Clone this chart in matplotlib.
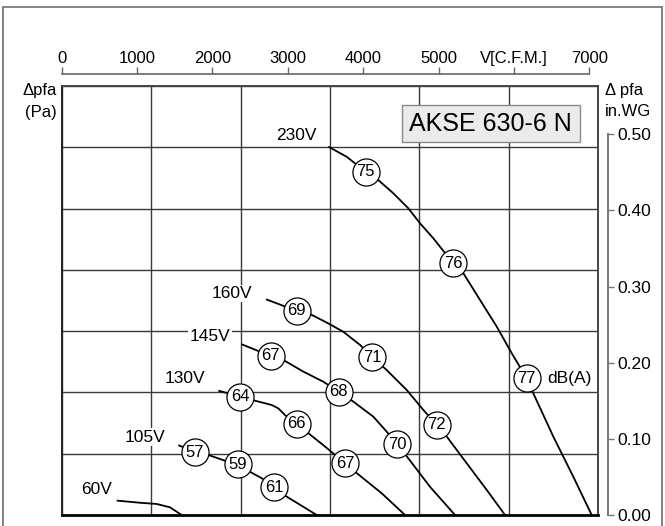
import matplotlib
matplotlib.use("Agg")
import matplotlib.pyplot as plt
from matplotlib.patches import Rectangle
import numpy as np

plt.rcParams['font.family'] = ['Liberation Sans', 'DejaVu Sans']

# ---------------- data (x: m3/h, y: Pa) ----------------
c60_x = [1225, 1746, 2120, 2418, 2680]
c60_y = [4.7, 4.0, 3.6, 2.5, 0.0]

c105_x = [2604, 2978, 3275, 3611, 3933, 4209, 4471, 4753, 5030, 5702]
c105_y = [22.8, 20.5, 19.6, 17.9, 16.5, 14.1, 12.0, 9.0, 6.0, 0.0]

c130_x = [3499, 3985, 4321, 4695, 4843, 4993, 5254, 5514, 5850, 6336, 6604, 7157, 7679]
c130_y = [40.6, 38.6, 37.3, 35.9, 34.8, 32.6, 29.7, 26.7, 22.8, 16.9, 13.6, 7.1, 0.0]

c145_x = [4023, 4672, 4954, 5402, 5850, 6195, 6522, 6969, 7269, 7507, 7753, 8239, 8799]
c145_y = [55.7, 51.9, 50.6, 46.8, 43.5, 40.2, 37.0, 32.1, 27.2, 23.1, 18.5, 9.2, 0.0]

c160_x = [4567, 5254, 5590, 5926, 6298, 6672, 6947, 7269, 7717, 8089, 8389, 8613, 9060, 9508, 9918]
c160_y = [70.4, 66.6, 65.3, 62.8, 59.8, 55.5, 51.5, 47.3, 40.8, 34.3, 29.4, 25.6, 16.9, 8.2, 0.0]

c230_x = [5962, 6374, 6799, 7081, 7417, 7753, 8015, 8313, 8760, 8985, 9358, 9732,
          10068, 10404, 10552, 10999, 11447, 11859]
c230_y = [120.2, 116.9, 112.0, 109.3, 105.0, 100.1, 95.2, 90.3, 82.1, 78.9, 70.2, 61.5,
          52.8, 44.6, 39.7, 25.6, 12.5, 0.0]

curves_x = [c60_x, c105_x, c130_x, c145_x, c160_x, c230_x]
curves_y = [c60_y, c105_y, c130_y, c145_y, c160_y, c230_y]

voltage_labels = ['60V', '105V', '130V', '145V', '160V', '230V']
voltage_lab_x = [777, 1858, 2754, 3313, 3799, 5239]
voltage_lab_y = [8.2, 25.4, 44.4, 58.4, 72.3, 124.0]

db_values = [57, 59, 61, 64, 66, 67, 67, 68, 70, 69, 71, 72, 75, 76, 77]
db_x = [2978, 3933, 4753, 3985, 5254, 6336, 4672, 6195, 7507, 5254, 6947, 8389, 6799, 8760, 10404]
db_y = [20.5, 16.5, 9.0, 38.6, 29.7, 16.9, 51.9, 40.2, 23.1, 66.6, 51.5, 29.4, 112.0, 82.1, 44.6]

cfm_ticks = [0, 1000, 2000, 3000, 4000, 5000, 6000, 7000]
cfm_labels = ['0', '1000', '2000', '3000', '4000', '5000', 'V[C.F.M.]', '7000']
inwg_ticks = [0.0, 0.1, 0.2, 0.3, 0.4, 0.5]
inwg_labels = ['0.00', '0.10', '0.20', '0.30', '0.40', '0.50']

title_text = 'AKSE 630-6 N'

# ---------------- figure ----------------
W, H = 665, 526
fig = plt.figure(figsize=(W / 100, H / 100), dpi=100)

def fx(px):
    return px / W

def fy(py):
    return 1 - py / H

# outer border
fig.patches.append(Rectangle((fx(3), fy(540)), fx(662) - fx(3), fy(7) - fy(540),
                             transform=fig.transFigure, fill=False,
                             edgecolor='#7a7a7a', lw=1.3))

# main axes
L, R, T, B = 62, 598, 86, 515
ax = fig.add_axes([fx(L), fy(B), fx(R) - fx(L), fy(T) - fy(B)])
ax.set_xlim(0, 12000)
ax.set_ylim(0, 140)
ax.set_xticks(np.arange(0, 12001, 2000))
ax.set_yticks(np.arange(0, 141, 20))
ax.tick_params(length=0, labelbottom=False, labelleft=False)
ax.grid(True, color='#3a3a3a', lw=1.0)
ax.set_axisbelow(True)
for s in ['top', 'right']:
    ax.spines[s].set_color('#444444')
    ax.spines[s].set_linewidth(1.4)
ax.spines['left'].set_color('#222222')
ax.spines['left'].set_linewidth(1.4)
ax.spines['bottom'].set_color('#000000')
ax.spines['bottom'].set_linewidth(2.0)

for xs, ys in zip(curves_x, curves_y):
    ax.plot(xs, ys, color='black', lw=1.3, zorder=3, solid_capstyle='butt',
            solid_joinstyle='round')

ax.plot(db_x, db_y, linestyle='none', marker='o', markersize=19.5,
        markerfacecolor='white', markeredgecolor='black', markeredgewidth=0.9,
        zorder=4)
for v, x, y in zip(db_values, db_x, db_y):
    ax.text(x, y, str(v), ha='center', va='center', fontsize=12, zorder=5)

for lab, x, y in zip(voltage_labels, voltage_lab_x, voltage_lab_y):
    ax.text(x, y, lab, ha='center', va='center', fontsize=12.5, zorder=5,
            bbox=dict(facecolor='white', edgecolor='none', pad=1.0))

# dB(A) label next to last badge
ax.text(db_x[-1] + 470, db_y[-1], 'dB(A)', ha='left', va='center',
        fontsize=12.5, zorder=5)

# title box
bx0, bx1 = 7605, 11597
by0, by1 = 121.7, 133.8
ax.add_patch(Rectangle((bx0, by0), bx1 - bx0, by1 - by0, facecolor='#ebebeb',
                       edgecolor='#8a8a8a', lw=1.0, zorder=6))
ax.text((bx0 + bx1) / 2, (by0 + by1) / 2, title_text, ha='center', va='center',
        fontsize=18, zorder=7)

# top CFM axis
axt = fig.add_axes([fx(61.7), fy(74), fx(589.3) - fx(61.7), 0.0001])
axt.set_xlim(0, 7000)
for s in ['left', 'right', 'bottom']:
    axt.spines[s].set_visible(False)
axt.spines['top'].set_color('#666666')
axt.spines['top'].set_linewidth(1.2)
axt.set_yticks([])
axt.xaxis.tick_top()
axt.set_xticks(cfm_ticks)
axt.set_xticklabels(cfm_labels)
axt.tick_params(axis='x', direction='out', length=5, width=1.0, color='#666666',
                pad=0.5, labelsize=12)
axt.patch.set_visible(False)

# right in.WG axis
axr = fig.add_axes([fx(608), fy(515), 0.0001, fy(134.3) - fy(515)])
axr.set_ylim(0, 0.5)
for s in ['left', 'top', 'bottom']:
    axr.spines[s].set_visible(False)
axr.spines['right'].set_color('#777777')
axr.spines['right'].set_linewidth(1.4)
axr.set_xticks([])
axr.yaxis.tick_right()
axr.set_yticks(inwg_ticks)
axr.set_yticklabels(inwg_labels)
axr.tick_params(axis='y', direction='out', length=4, width=1.0, color='#777777',
                pad=3, labelsize=12.5)
axr.patch.set_visible(False)

# axis titles
fig.text(fx(57), fy(90), 'Δpfa', ha='right', va='center', fontsize=12)
fig.text(fx(57), fy(112), '(Pa)', ha='right', va='center', fontsize=12)
fig.text(fx(605), fy(90), 'Δ pfa', ha='left', va='center', fontsize=12)
fig.text(fx(605), fy(112), 'in.WG', ha='left', va='center', fontsize=12)

fig.savefig('out.png', dpi=100)
